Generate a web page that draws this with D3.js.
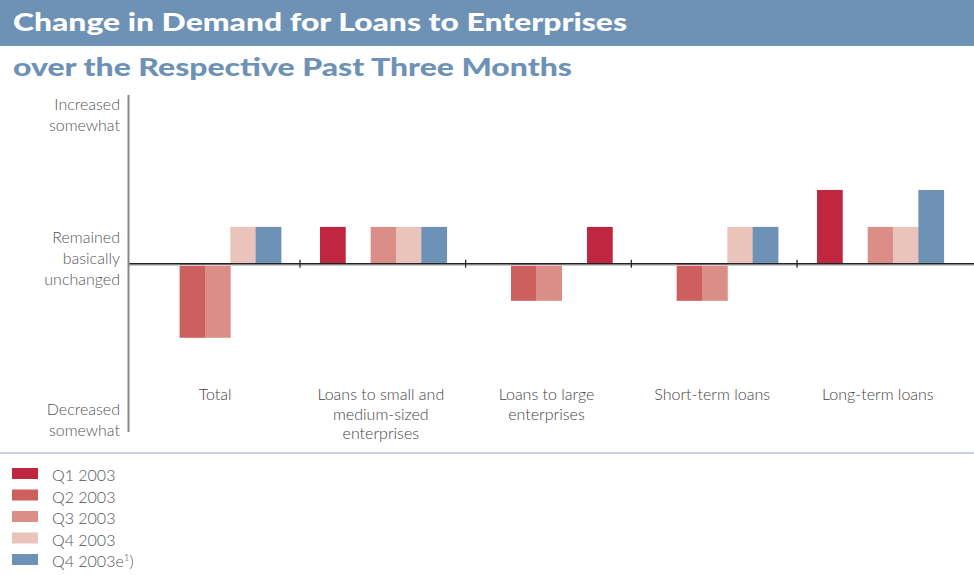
<!DOCTYPE html>
<html>
<head>
<meta charset="utf-8">
<script src="https://cdn.jsdelivr.net/npm/d3@7"></script>
<style>
  html, body { margin: 0; padding: 0; background: #fff; }
  svg { display: block; }
  text { font-family: Lato, "Open Sans", sans-serif; }
</style>
</head>
<body>
<svg id="chart" width="974" height="575"></svg>
<script>
// Categories and series
const categories = ["Total", "Loans to small and medium-sized enterprises", "Loans to large enterprises", "Short-term loans", "Long-term loans"];
const categoryLines = [["Total"], ["Loans to small and", "medium-sized", "enterprises"], ["Loans to large", "enterprises"], ["Short-term loans"], ["Long-term loans"]];
const seriesNames = ["Q1 2003", "Q2 2003", "Q3 2003", "Q4 2003", "Q4 2003e"];
const seriesColors = ["#c0263f", "#cd5f5e", "#db8e87", "#eac4bb", "#6d92b5"];

// Diffusion scores per series (one value per category)
const q1_2003  = [0, 1, 0, 0, 2];
const q2_2003  = [-2, 0, -1, -1, 0];
const q3_2003  = [-2, 1, -1, -1, 1];
const q4_2003  = [1, 1, 0, 1, 1];
const q4_2003e = [1, 1, 1, 1, 2];
const seriesValues = [q1_2003, q2_2003, q3_2003, q4_2003, q4_2003e];

// The Q4 2003e bar for large enterprises is printed in the Q1 shade
const colorOverrides = [{ category: 2, series: 4, color: "#c0263f" }];

// Value-axis verbal labels
const axisLabels = [
  { value: 4.05, lines: ["Increased", "somewhat"] },
  { value: 0.15, lines: ["Remained", "basically", "unchanged"] },
  { value: -4.2, lines: ["Decreased", "somewhat"] }
];

const svg = d3.select("#chart");
const blue = "#6d92b5";

// Title band
svg.append("rect").attr("x", 0).attr("y", 0).attr("width", 974).attr("height", 46).attr("fill", blue);
svg.append("text").attr("x", 13).attr("y", 31)
  .attr("fill", "#fff").attr("font-size", 24).attr("font-weight", 900)
  .attr("textLength", 614).attr("lengthAdjust", "spacingAndGlyphs")
  .text("Change in Demand for Loans to Enterprises");
svg.append("text").attr("x", 13).attr("y", 76)
  .attr("fill", blue).attr("font-size", 24).attr("font-weight", 900)
  .attr("textLength", 559).attr("lengthAdjust", "spacingAndGlyphs")
  .text("over the Respective Past Three Months");

// Scales
const x = d3.scaleBand().domain(d3.range(categories.length)).range([134.3, 962.7]);
const xs = d3.scaleBand().domain(d3.range(seriesNames.length))
  .range([20, x.bandwidth() - 19]);
const y = d3.scaleLinear().domain([-4.55, 4.57]).range([432, 95]);

// Bars
const bars = [];
categories.forEach((c, ci) => {
  seriesValues.forEach((vals, si) => {
    const v = vals[ci];
    if (v === 0) return;
    const ov = colorOverrides.find(o => o.category === ci && o.series === si);
    bars.push({ ci, si, v, color: ov ? ov.color : seriesColors[si] });
  });
});
svg.append("g").selectAll("rect").data(bars).join("rect")
  .attr("x", d => x(d.ci) + xs(d.si))
  .attr("width", xs.bandwidth() + 0.4)
  .attr("y", d => y(Math.max(0, d.v)))
  .attr("height", d => Math.abs(y(d.v) - y(0)))
  .attr("fill", d => d.color);

// Zero line with a faint shadow and group separators
svg.append("line").attr("x1", 129).attr("x2", 974).attr("y1", y(0) + 1.5).attr("y2", y(0) + 1.5)
  .attr("stroke", "#ccc").attr("stroke-width", 1.5);
svg.append("line").attr("x1", 129).attr("x2", 974).attr("y1", y(0)).attr("y2", y(0))
  .attr("stroke", "#222").attr("stroke-width", 1.5);
svg.append("g").selectAll("line").data(d3.range(1, categories.length)).join("line")
  .attr("x1", i => x(i)).attr("x2", i => x(i))
  .attr("y1", y(0) - 4).attr("y2", y(0) + 4)
  .attr("stroke", "#222").attr("stroke-width", 1.2);

// Value axis
svg.append("line").attr("x1", 128.5).attr("x2", 128.5).attr("y1", y(4.57)).attr("y2", y(-4.55))
  .attr("stroke", "#888").attr("stroke-width", 2);

axisLabels.forEach(l => {
  const n = l.lines.length;
  const t = svg.append("text").attr("text-anchor", "end")
    .attr("fill", "#555").attr("font-size", 16).attr("font-weight", 300);
  l.lines.forEach((s, i) => {
    t.append("tspan").attr("x", 120)
      .attr("y", y(l.value) + (i - (n - 1) / 2) * 21 + 6)
      .text(s);
  });
});

// Category labels
categoryLines.forEach((lines, ci) => {
  const t = svg.append("text").attr("text-anchor", "middle")
    .attr("fill", "#444").attr("font-size", 16).attr("font-weight", 300);
  lines.forEach((s, i) => {
    t.append("tspan").attr("x", x(ci) + x.bandwidth() / 2 - 2)
      .attr("y", 400 + i * 19.5).text(s);
  });
});

// Divider
svg.append("line").attr("x1", 0).attr("x2", 974).attr("y1", 453).attr("y2", 453)
  .attr("stroke", "#8aa6c1").attr("stroke-width", 1.2);

// Legend
const lg = svg.append("g").selectAll("g").data(seriesNames).join("g")
  .attr("transform", (d, i) => `translate(12, ${468 + i * 21.5})`);
lg.append("rect").attr("width", 26).attr("height", 11).attr("fill", (d, i) => seriesColors[i]);
const lt = lg.append("text").attr("x", 40).attr("y", 13)
  .attr("fill", "#555").attr("font-size", 16).attr("font-weight", 300)
  .text(d => d);
lt.filter((d, i) => i === seriesNames.length - 1).each(function () {
  const t = d3.select(this);
  t.append("tspan").attr("font-size", 10).attr("dy", -6).text("1");
  t.append("tspan").attr("dy", 6).text(")");
});
</script>
</body>
</html>
